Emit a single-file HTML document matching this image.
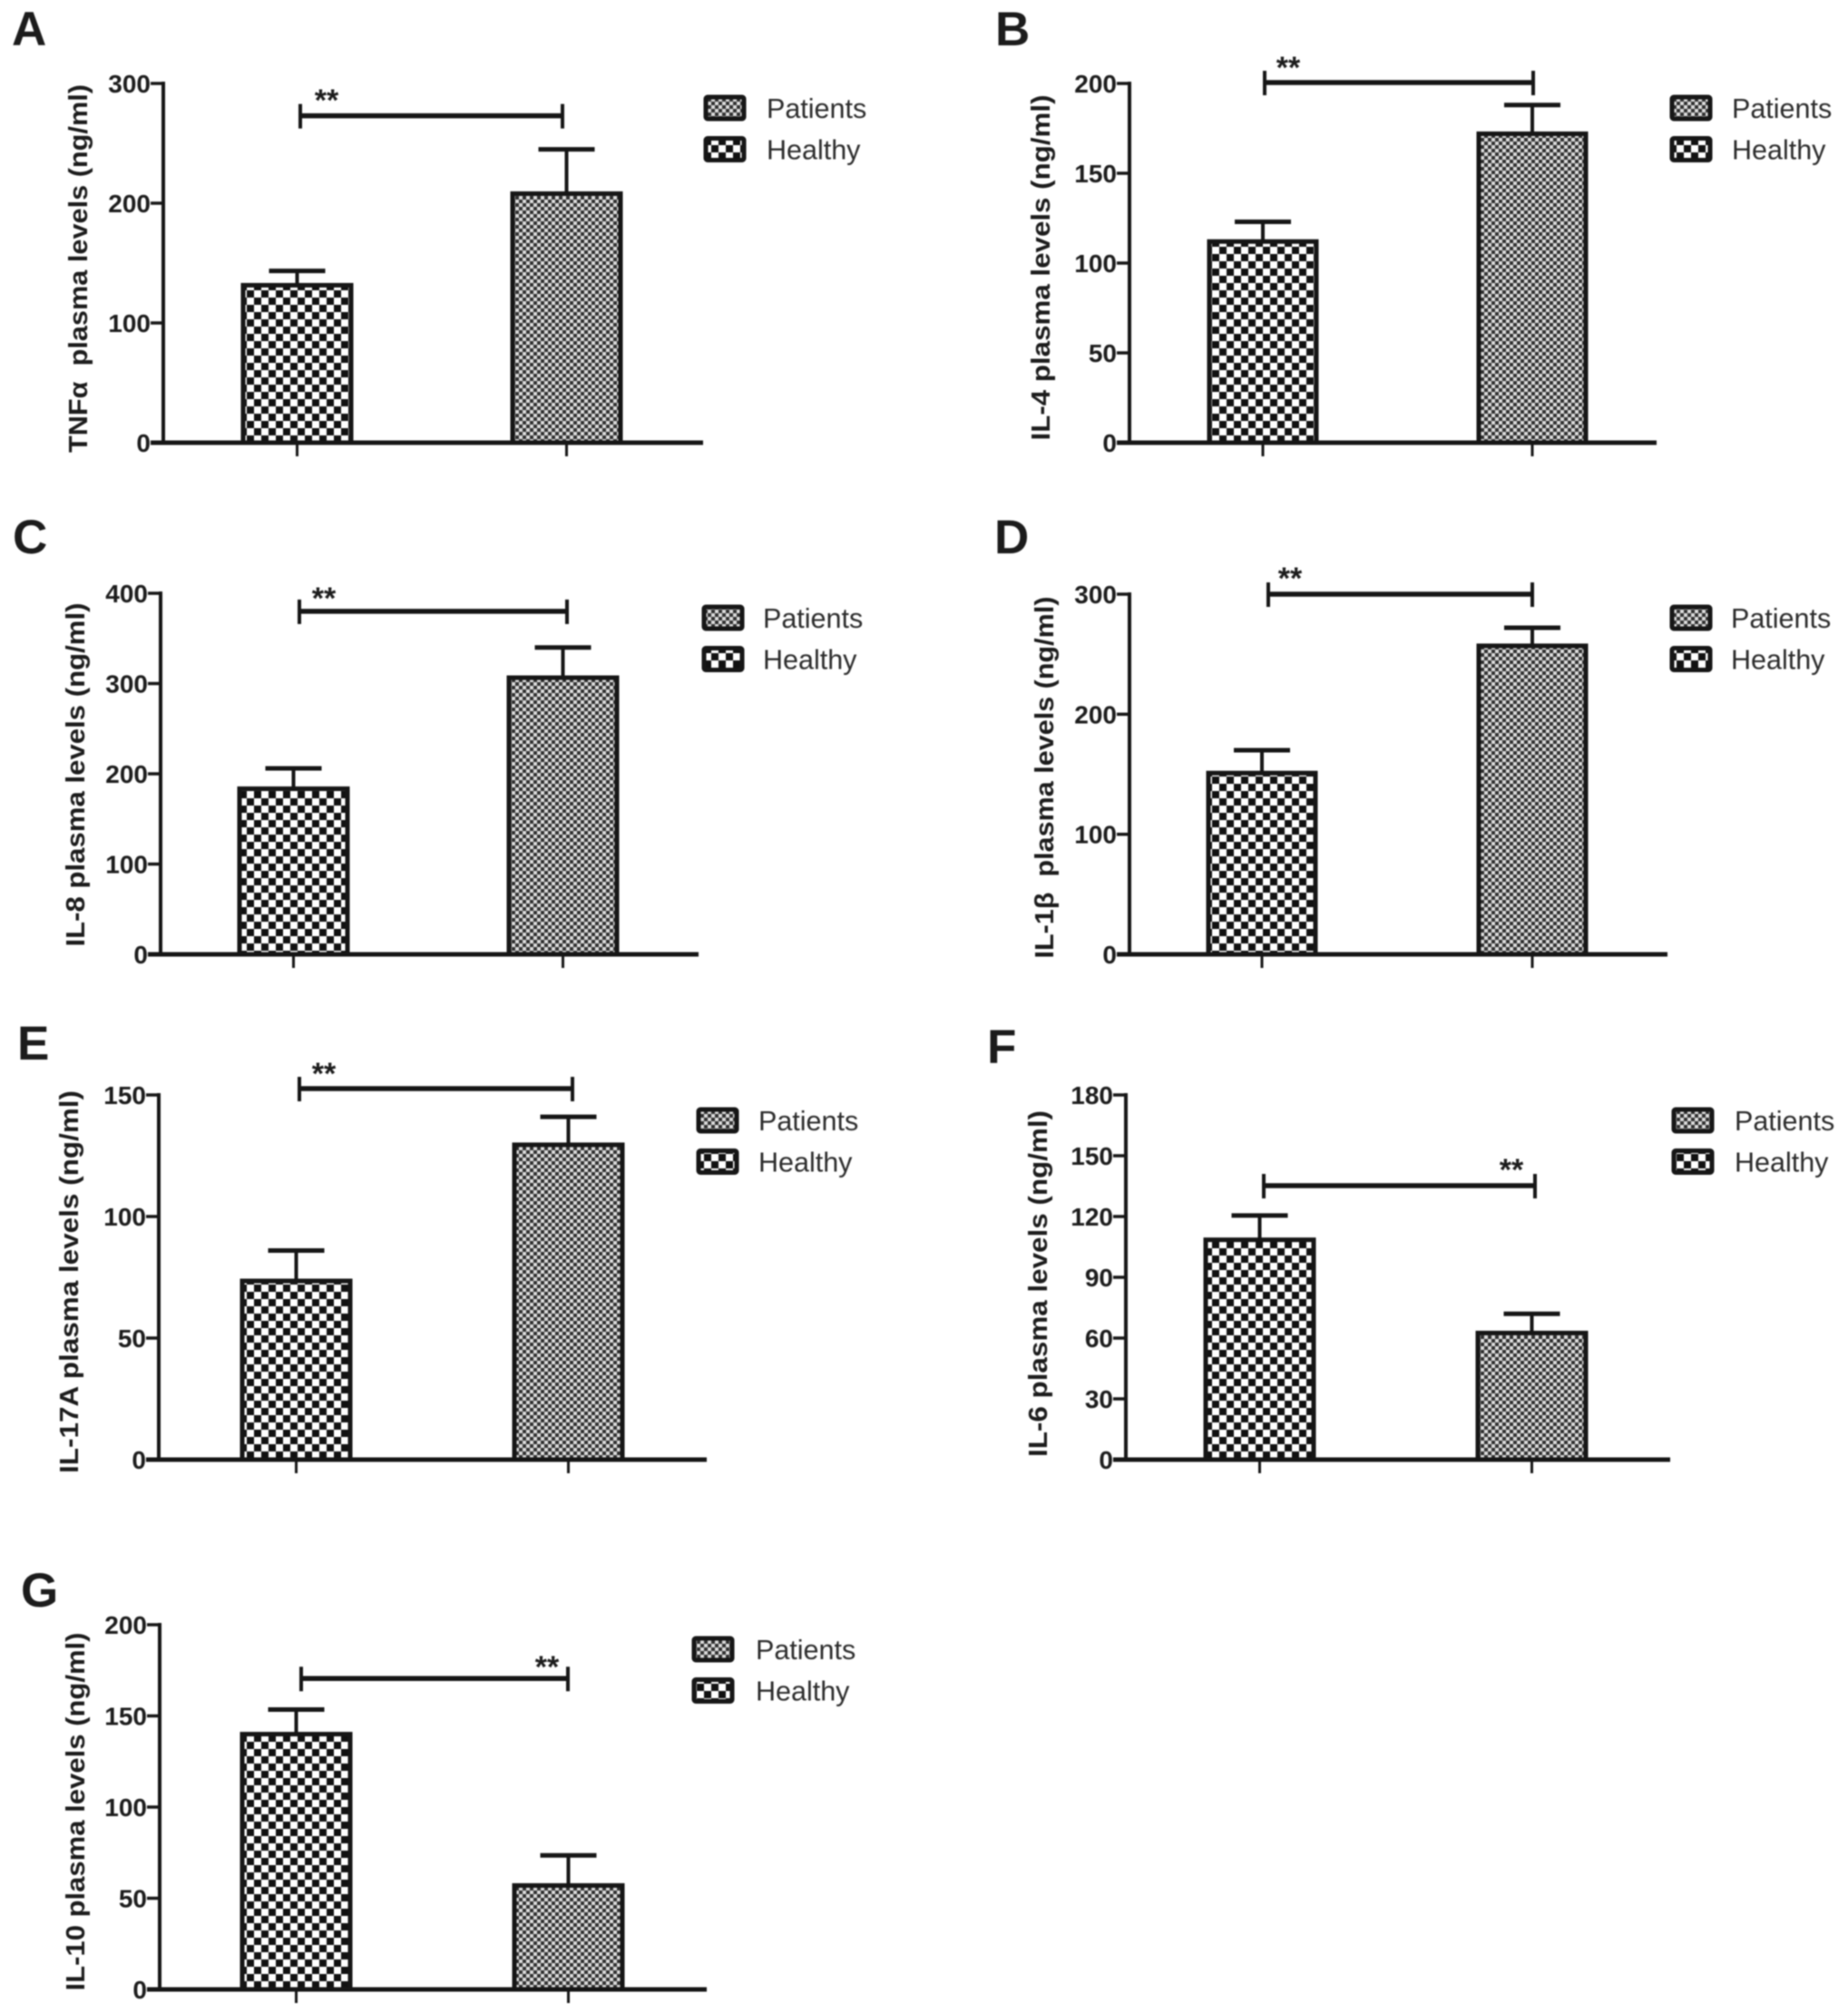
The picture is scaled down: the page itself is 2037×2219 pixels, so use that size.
<!DOCTYPE html>
<html lang="en">
<head>
<meta charset="utf-8">
<title>Plasma cytokine levels in patients and healthy controls</title>
<style>
  html, body { margin: 0; padding: 0; background: #fff; }
  #figure { display: block; width: 2037px; height: 2219px; filter: blur(0.7px); }
  text { font-family: "Liberation Sans", "DejaVu Sans", sans-serif; fill: #1c1c1c; white-space: pre; }
  .tick-label { font-weight: bold; font-size: 28px; text-anchor: end; }
  .y-title { font-weight: bold; font-size: 29px; text-anchor: middle; }
  .panel-letter { font-weight: bold; font-size: 53px; }
  .legend-text { font-size: 30.5px; fill: #2c2c2c; }
  .stars { font-size: 34px; text-anchor: middle; font-weight: bold; }
</style>
</head>
<body>
<svg id="figure" xmlns="http://www.w3.org/2000/svg" width="2037" height="2219" viewBox="0 0 2037 2219">
  <defs>
    <pattern id="healthy-pattern" width="16" height="16" patternUnits="userSpaceOnUse">
      <rect width="16" height="16" fill="#ffffff"></rect>
      <rect x="0" y="0" width="8" height="8" fill="#111111"></rect>
      <rect x="8" y="8" width="8" height="8" fill="#111111"></rect>
    </pattern>
    <pattern id="patients-pattern" width="8" height="8" patternUnits="userSpaceOnUse">
      <rect width="8" height="8" fill="#dcdcdc"></rect>
      <rect x="0" y="0" width="4" height="4" fill="#303030"></rect>
      <rect x="4" y="4" width="4" height="4" fill="#303030"></rect>
    </pattern>
  </defs>
  <rect width="2037" height="2219" fill="#ffffff"></rect>
</svg>
<script>
// ---- Chart data ----
const panelLetters = ['A', 'B', 'C', 'D', 'E', 'F', 'G'];
const yTitles = [
  'TNFα  plasma levels (ng/ml)',
  'IL-4 plasma levels (ng/ml)',
  'IL-8 plasma levels (ng/ml)',
  'IL-1β  plasma levels (ng/ml)',
  'IL-17A plasma levels (ng/ml)',
  'IL-6 plasma levels (ng/ml)',
  'IL-10 plasma levels (ng/ml)'
];
const yTicksA = [0, 100, 200, 300];
const yTicksB = [0, 50, 100, 150, 200];
const yTicksC = [0, 100, 200, 300, 400];
const yTicksD = [0, 100, 200, 300];
const yTicksE = [0, 50, 100, 150];
const yTicksF = [0, 30, 60, 90, 120, 150, 180];
const yTicksG = [0, 50, 100, 150, 200];
const yTickSets = [yTicksA, yTicksB, yTicksC, yTicksD, yTicksE, yTicksF, yTicksG];
const healthyMeans = [131.5, 112, 183.5, 151, 73.5, 108.5, 140];
const healthyErrorTops = [143.5, 123, 206, 170, 86, 120.5, 153.5];
const patientMeans = [208, 172, 306.5, 257, 129.5, 62.5, 57];
const patientErrorTops = [245, 188, 340, 272, 141, 72, 73.5];
const bracketLevels = [273, 200.5, 380, 300, 152.6, 135.2, 170.5];
const legendLabels = ['Patients', 'Healthy'];
const significanceMark = '**';

// ---- Layout only (no data values) ----
const frames = [
  { axisX: 180,  y0: 488,  yTop: 92,   xEnd: 775,  bar1: 268,  bar2: 565,  barW: 119, titleX: 96,   titleY: 296,  titleLen: 406, letterX: 13,   letterY: 50,   brL: 331,  brR: 620,  starX: 360,  starY: 122,  swatchX: 776,  textX: 845,  legendY: 119 },
  { axisX: 1245, y0: 488,  yTop: 92,   xEnd: 1826, bar1: 1333, bar2: 1630, barW: 118, titleX: 1157, titleY: 295,  titleLen: 381, letterX: 1097, letterY: 50,   brL: 1394, brR: 1690, starX: 1420, starY: 86,   swatchX: 1841, textX: 1909, legendY: 119 },
  { axisX: 177,  y0: 1052, yTop: 654,  xEnd: 770,  bar1: 264,  bar2: 561,  barW: 119, titleX: 93,   titleY: 854,  titleLen: 379, letterX: 14,   letterY: 610,  brL: 330,  brR: 625,  starX: 357,  starY: 671,  swatchX: 774,  textX: 841,  legendY: 681 },
  { axisX: 1245, y0: 1052, yTop: 655,  xEnd: 1838, bar1: 1332, bar2: 1630, barW: 118, titleX: 1161, titleY: 857,  titleLen: 399, letterX: 1096, letterY: 610,  brL: 1398, brR: 1689, starX: 1422, starY: 649,  swatchX: 1841, textX: 1908, legendY: 681 },
  { axisX: 175,  y0: 1609, yTop: 1207, xEnd: 779,  bar1: 267,  bar2: 567,  barW: 119, titleX: 86,   titleY: 1413, titleLen: 422, letterX: 19,   letterY: 1168, brL: 330,  brR: 631,  starX: 357,  starY: 1195, swatchX: 768,  textX: 836,  legendY: 1235 },
  { axisX: 1241, y0: 1609, yTop: 1207, xEnd: 1841, bar1: 1329, bar2: 1629, barW: 119, titleX: 1154, titleY: 1415, titleLen: 382, letterX: 1088, letterY: 1172, brL: 1393, brR: 1692, starX: 1666, starY: 1301, swatchX: 1843, textX: 1912, legendY: 1235 },
  { axisX: 176,  y0: 2193, yTop: 1791, xEnd: 779,  bar1: 267,  bar2: 567,  barW: 119, titleX: 93,   titleY: 1997, titleLen: 395, letterX: 23,   letterY: 1771, brL: 332,  brR: 626,  starX: 603,  starY: 1849, swatchX: 763,  textX: 833,  legendY: 1818 }
];
const legendRowGap = 45.5;
const svgNS = 'http://www.w3.org/2000/svg';
const figure = document.getElementById('figure');

function make(parent, tag, attrs, content) {
  const el = document.createElementNS(svgNS, tag);
  Object.keys(attrs).forEach(function (k) { el.setAttribute(k, attrs[k]); });
  if (content !== undefined) el.textContent = content;
  parent.appendChild(el);
  return el;
}

function yScaleFor(frame, ticks) {
  const max = ticks[ticks.length - 1];
  return function (v) { return frame.y0 - (v / max) * (frame.y0 - frame.yTop); };
}

panelLetters.forEach(function (letter, p) {
  const f = frames[p];
  const ticks = yTickSets[p];
  const y = yScaleFor(f, ticks);
  const id = letter.toLowerCase();

  const g = make(figure, 'g', {});
  
  

  const letterEl = make(g, 'text', { class: 'panel-letter', x: f.letterX, y: f.letterY }, letter);
  
  

  const titleEl = make(g, 'text', {
    class: 'y-title',
    transform: 'translate(' + f.titleX + ',' + f.titleY + ') rotate(-90)',
    textLength: f.titleLen,
    lengthAdjust: 'spacingAndGlyphs'
  }, yTitles[p]);
  
  

  // bars: healthy on the left, patients on the right
  const series = [
    { key: 'healthy', mean: healthyMeans[p], top: healthyErrorTops[p], left: f.bar1, fill: 'url(#healthy-pattern)' },
    { key: 'patients', mean: patientMeans[p], top: patientErrorTops[p], left: f.bar2, fill: 'url(#patients-pattern)' }
  ];
  series.forEach(function (s) {
    const cx = s.left + f.barW / 2;
    const stem = make(g, 'line', { x1: cx, x2: cx, y1: y(s.mean), y2: y(s.top), stroke: '#161616', 'stroke-width': 4 });
    
    

    const cap = make(g, 'line', { x1: cx - 31, x2: cx + 31, y1: y(s.top), y2: y(s.top), stroke: '#161616', 'stroke-width': 5 });
    
    

    const bar = make(g, 'rect', {
      x: s.left, y: y(s.mean), width: f.barW, height: f.y0 - y(s.mean),
      fill: s.fill, stroke: '#161616', 'stroke-width': 5
    });
    
    

    const xTick = make(g, 'line', { x1: cx, x2: cx, y1: f.y0, y2: f.y0 + 15, stroke: '#161616', 'stroke-width': 3 });
    
    
  });

  // axes
  const yAxis = make(g, 'line', { x1: f.axisX, x2: f.axisX, y1: f.yTop - 2, y2: f.y0 + 2, stroke: '#161616', 'stroke-width': 4 });
  
  

  const xAxis = make(g, 'line', { x1: f.axisX - 14, x2: f.xEnd, y1: f.y0, y2: f.y0, stroke: '#161616', 'stroke-width': 5 });
  
  

  ticks.forEach(function (t) {
    const tickLine = make(g, 'line', { x1: f.axisX - 14, x2: f.axisX, y1: y(t), y2: y(t), stroke: '#161616', 'stroke-width': 3.5 });
    
    

    const label = make(g, 'text', { class: 'tick-label', x: f.axisX - 14, y: y(t) + 10 }, String(t));
    
    
  });

  // significance bracket
  const by = y(bracketLevels[p]);
  const bracketParts = [
    [f.brL, by, f.brR, by, 5.5, 'bracket-line-'],
    [f.brL, by - 13, f.brL, by + 14, 4, 'bracket-left-cap-'],
    [f.brR, by - 13, f.brR, by + 14, 4, 'bracket-right-cap-']
  ];
  bracketParts.forEach(function (b) {
    const part = make(g, 'line', { x1: b[0], y1: b[1], x2: b[2], y2: b[3], stroke: '#161616', 'stroke-width': b[4] });
    
    
  });
  const stars = make(g, 'text', { class: 'stars', x: f.starX, y: f.starY }, significanceMark);
  
  

  // legend
  legendLabels.forEach(function (name, i) {
    const ly = f.legendY + i * legendRowGap;
    const swatch = make(g, 'rect', {
      x: f.swatchX + 2, y: ly - 12, width: 42, height: 24, rx: 2,
      fill: i === 0 ? 'url(#patients-pattern)' : 'url(#healthy-pattern)',
      stroke: '#161616', 'stroke-width': 5
    });
    
    

    const text = make(g, 'text', { class: 'legend-text', x: f.textX, y: ly + 11 }, name);
    
    
  });
});
</script>
</body>
</html>
